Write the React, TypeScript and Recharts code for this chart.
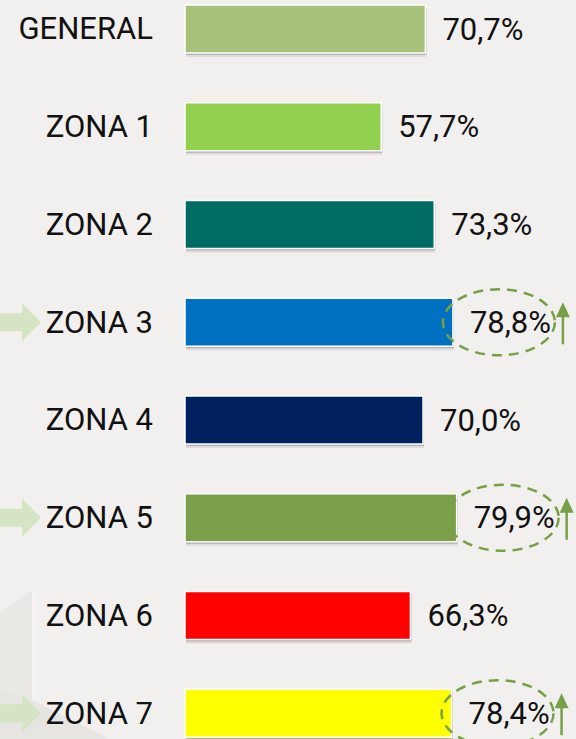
import { BarChart, Bar, XAxis, YAxis, Cell, LabelList, Rectangle } from 'recharts';

const zones = ['GENERAL', 'ZONA 1', 'ZONA 2', 'ZONA 3', 'ZONA 4', 'ZONA 5', 'ZONA 6', 'ZONA 7'];
const values = [70.7, 57.7, 73.3, 78.8, 70.0, 79.9, 66.3, 78.4];
const colors = ['#a7c07a', '#92d050', '#006b62', '#0070c0', '#002060', '#7aa04a', '#ff0000', '#ffff00'];
const highlighted = [false, false, false, true, false, true, false, true];

const data = zones.map((zone, i) => ({ zone, value: values[i], color: colors[i] }));

const fmt = (v: number) => v.toFixed(1).replace('.', ',') + '%';

const FONT = 'Roboto, "DejaVu Sans", sans-serif';

const renderBar = (props: any) => {
  const { x, y, width, height, fill } = props;
  return (
    <g>
      <Rectangle x={x + 1} y={y + 4} width={width} height={height} fill="#000000" fillOpacity={0.08} />
      <Rectangle x={x + 1} y={y + 2} width={width} height={height} fill="#000000" fillOpacity={0.2} />
      <Rectangle x={x} y={y} width={width} height={height} fill={fill} stroke="#ffffff" strokeWidth={1.5} />
    </g>
  );
};

const ValueLabel = (props: any) => {
  const { x, y, width, height, value, index } = props;
  const end = x + width;
  const cy = y + height / 2;
  const hl = highlighted[index];
  return (
    <g>
      {hl && (
        <ellipse
          cx={end + 46}
          cy={cy}
          rx={56}
          ry={33}
          fill="none"
          stroke="#77a046"
          strokeWidth={2.5}
          strokeDasharray="10 7"
        />
      )}
      <text
        x={end + 17}
        y={cy}
        dominantBaseline="central"
        fontSize={31}
        fontFamily={FONT}
        fill="#111111"
      >
        {fmt(value)}
      </text>
      {hl && (
        <g>
          <line x1={end + 110} y1={cy - 6} x2={end + 110} y2={cy + 22} stroke="#77a046" strokeWidth={2.5} />
          <polygon
            points={`${end + 103},${cy - 5} ${end + 117},${cy - 5} ${end + 110},${cy - 20}`}
            fill="#77a046"
          />
        </g>
      )}
    </g>
  );
};

const PointerTick = (props: any) => {
  const { x, y, payload, index } = props;
  return (
    <g>
      {highlighted[index] && (
        <polygon
          points={`0,${y - 9} 22,${y - 9} 22,${y - 19} 41,${y} 22,${y + 19} 22,${y + 9} 0,${y + 9}`}
          fill="#d5e5c3"
        />
      )}
      <text
        x={x}
        y={y}
        textAnchor="end"
        dominantBaseline="central"
        fontSize={31}
        fontFamily={FONT}
        fill="#111111"
      >
        {payload.value}
      </text>
    </g>
  );
};

export default function App() {
  return (
    <div
      style={{
        position: 'absolute',
        left: 0,
        top: 0,
        width: 576,
        height: 739,
        overflow: 'hidden',
        background: '#f1f0ee',
      }}
    >
      <svg width={576} height={739} style={{ position: 'absolute', left: 0, top: 0 }}>
        <polygon points="0,612 32,590 32,739 0,739" fill="#e9e8e5" />
        <rect x={32} y={590} width={5} height={149} fill="#f4f3f1" />
        <polygon points="0,690 32,700 110,739 0,739" fill="#e6e5e2" />
      </svg>
      <div style={{ position: 'absolute', left: 0, top: -20 }}>
        <BarChart
          width={576}
          height={782}
          data={data}
          layout="vertical"
          margin={{ top: 0, right: 51, bottom: 0, left: 0 }}
          barSize={48}
        >
          <XAxis type="number" dataKey="value" domain={[0, 100]} hide />
          <YAxis
            type="category"
            dataKey="zone"
            width={185}
            axisLine={false}
            tickLine={false}
            tickSize={0}
            tickMargin={32}
            tick={<PointerTick />}
            interval={0}
          />
          <Bar dataKey="value" isAnimationActive={false} shape={renderBar}>
            {data.map((d) => (
              <Cell key={d.zone} fill={d.color} />
            ))}
            <LabelList dataKey="value" content={<ValueLabel />} />
          </Bar>
        </BarChart>
      </div>
    </div>
  );
}
